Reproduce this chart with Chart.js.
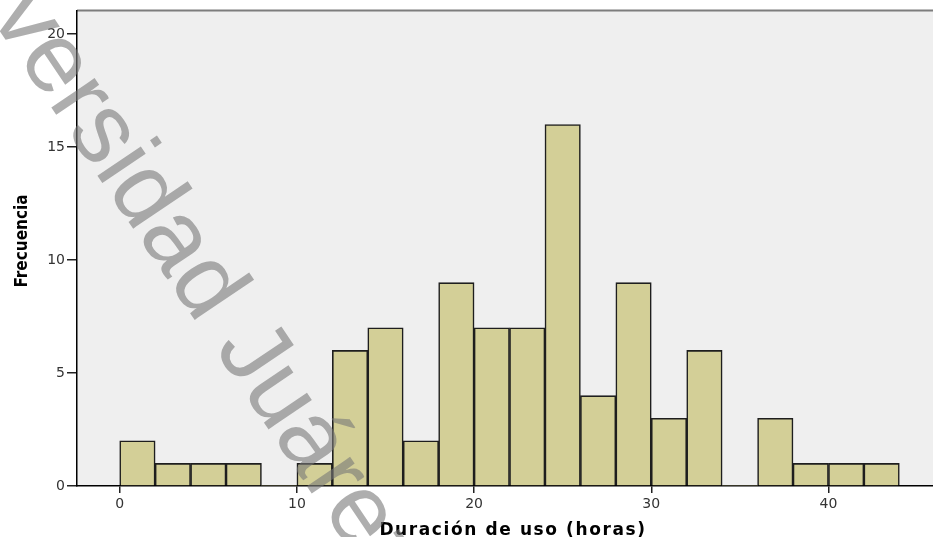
<!DOCTYPE html>
<html>
<head>
<meta charset="utf-8">
<script src="https://cdn.jsdelivr.net/npm/chart.js@4.4.1/dist/chart.umd.min.js"></script>
<style>
  body { margin: 0; background: #fff; }
  canvas { display: block; }
</style>
</head>
<body>
<canvas id="histograma" width="933" height="537"></canvas>
<script>
// limite inferior de cada intervalo (horas) y su frecuencia
var limites = [0, 2, 4, 6, 8, 10, 12, 14, 16, 18, 20, 22, 24, 26, 28, 30, 32, 34, 36, 38, 40, 42];
var frecuencias = [2, 1, 1, 1, 0, 1, 6, 7, 2, 9, 7, 7, 16, 4, 9, 3, 6, 0, 3, 1, 1, 1];
var anchoIntervalo = 2;
var ticksX = [0, 10, 20, 30, 40];
var ticksY = [0, 5, 10, 15, 20];

var tituloX = "Duración de uso (horas)";
var tituloY = "Frecuencia";
var marcaAgua = "Universidad Juárez";

var puntos = limites.map(function (l, i) {
    return { x: l + anchoIntervalo / 2, y: frecuencias[i] };
});

// fondo gris del area del grafico
var fondo = {
    id: "fondo",
    beforeDraw: function (chart) {
        var ctx = chart.ctx, a = chart.chartArea;
        ctx.save();
        ctx.fillStyle = "#efefef";
        ctx.fillRect(a.left, a.top, a.right - a.left, a.bottom - a.top);
        ctx.strokeStyle = "#7d7d7d";
        ctx.lineWidth = 2;
        ctx.beginPath();
        ctx.moveTo(a.left, a.top);
        ctx.lineTo(a.right, a.top);
        ctx.stroke();
        ctx.restore();
    }
};

// titulos de ejes y marca de agua
var textos = {
    id: "textos",
    afterDraw: function (chart) {
        var ctx = chart.ctx;
        ctx.save();
        ctx.fillStyle = "#000";
        ctx.font = "bold 17px 'DejaVu Sans'";
        ctx.letterSpacing = "1.6px";
        ctx.textAlign = "center";
        ctx.textBaseline = "alphabetic";
        ctx.fillText(tituloX, 513, 535);
        ctx.letterSpacing = "0px";

        ctx.translate(27, 241);
        ctx.rotate(-Math.PI / 2);
        ctx.font = "bold 17px 'Liberation Sans Narrow', 'DejaVu Sans Condensed', sans-serif";
        ctx.fillText(tituloY, 0, 0);
        ctx.restore();

        ctx.save();
        ctx.translate(-94, -108);
        ctx.rotate(56 * Math.PI / 180);
        ctx.font = "99px 'Liberation Sans', Arial, sans-serif";
        ctx.fillStyle = "rgba(120,120,120,0.6)";
        ctx.textAlign = "left";
        ctx.fillText(marcaAgua, 0, 0);
        ctx.restore();
    }
};

new Chart("histograma", {
    type: "bar",
    data: {
        datasets: [{
            data: puntos,
            backgroundColor: "#d3cf97",
            borderColor: "#1e1e1e",
            borderWidth: function (c) { return c.raw && c.raw.y ? 1.6 : 0; },
            barPercentage: 1,
            categoryPercentage: 1
        }]
    },
    options: {
        responsive: false,
        animation: false,
        layout: { padding: { top: 10, right: 0, left: 0, bottom: 0 } },
        plugins: {
            legend: { display: false },
            tooltip: { enabled: false }
        },
        scales: {
            x: {
                type: "linear",
                offset: false,
                min: -2.41,
                max: 45.9,
                afterBuildTicks: function (s) { s.ticks = ticksX.map(function (v) { return { value: v }; }); },
                afterFit: function (s) { s.height = 51; },
                grid: { offset: false, drawOnChartArea: false, tickLength: 7, color: "#222", lineWidth: 1.5 },
                border: { color: "#000", width: 1.5 },
                ticks: { color: "#333", padding: 3, maxRotation: 0, font: { family: "'DejaVu Sans'", size: 14 } }
            },
            y: {
                min: 0,
                max: 21.05,
                afterBuildTicks: function (s) { s.ticks = ticksY.map(function (v) { return { value: v }; }); },
                afterFit: function (s) { s.width = 77; },
                grid: { drawOnChartArea: false, tickLength: 10, color: "#222", lineWidth: 1.5 },
                border: { color: "#000", width: 1.5 },
                ticks: { color: "#333", padding: 2, font: { family: "'DejaVu Sans'", size: 14 } }
            }
        }
    },
    plugins: [fondo, textos]
});
</script>
</body>
</html>
